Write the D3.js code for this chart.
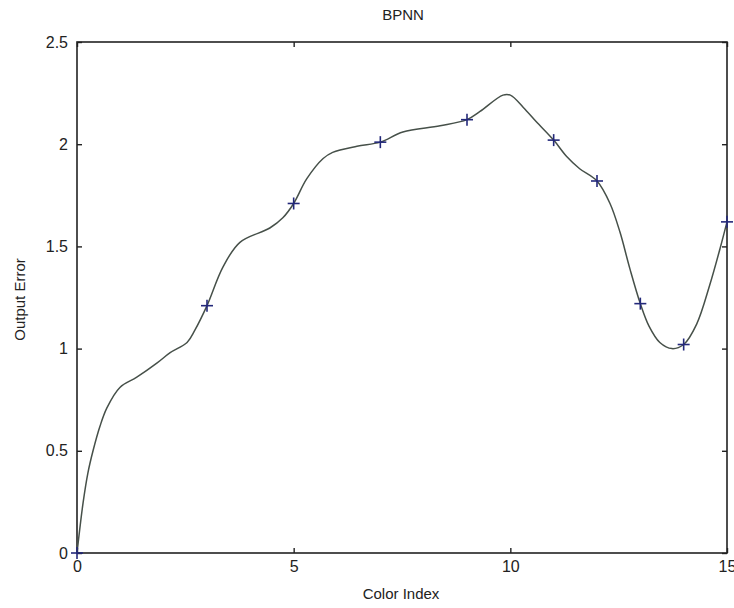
<!DOCTYPE html>
<html lang="en">
<head>
  <meta charset="UTF-8">
  <title>BPNN</title>
  <style>
    body { margin: 0; background: #fff; }
    text { font-family: "Liberation Sans", Arial, sans-serif; fill: #222; }
    .curve { fill: none; stroke: #465049; stroke-width: 1.5px; }
    .mark { stroke: #23287a; stroke-width: 1.6px; }
    .frame { fill: none; stroke: #222; stroke-width: 1.6px; }
  </style>
</head>
<body>
  <script src="https://cdn.jsdelivr.net/npm/d3@7"></script>
  <script>
    const width = 734, height = 608;
    const padL = 77, padR = 727, padT = 42, padB = 553;

    // samples
    const curveX = [0, 0.14, 0.25, 0.37, 0.53, 0.69, 0.99, 1.38, 1.85, 2.15, 2.54, 2.72, 3, 3.37, 3.76, 4.45, 4.75, 5, 5.3, 5.68, 5.9, 6.46, 7, 7.52, 8.38, 9, 9.3, 9.83, 10, 10.3, 10.6, 11, 11.3, 11.6, 12, 12.3, 12.53, 12.76, 13, 13.2, 13.45, 13.73, 14, 14.3, 14.6, 14.84, 15];
    const curveY = [0, 0.245, 0.39, 0.50, 0.62, 0.71, 0.81, 0.86, 0.93, 0.98, 1.03, 1.09, 1.21, 1.40, 1.52, 1.59, 1.64, 1.71, 1.83, 1.93, 1.96, 1.99, 2.01, 2.06, 2.09, 2.12, 2.16, 2.24, 2.24, 2.18, 2.11, 2.02, 1.94, 1.88, 1.82, 1.71, 1.57, 1.39, 1.22, 1.11, 1.03, 1.00, 1.02, 1.12, 1.31, 1.49, 1.62];

    // '+' markers
    const markX = [0, 3, 5, 7, 9, 11, 12, 13, 14, 15];
    const markY = [0, 1.21, 1.71, 2.01, 2.12, 2.02, 1.82, 1.22, 1.02, 1.62];

    const xTicks = [0, 5, 10, 15];
    const yTicks = [0, 0.5, 1, 1.5, 2, 2.5];

    const x = d3.scaleLinear().domain([0, 15]).range([padL, padR]);
    const y = d3.scaleLinear().domain([0, 2.5]).range([padB, padT]);

    const svg = d3.select('body').append('svg')
      .attr('width', width).attr('height', height);

    // ticks (inward, mirrored like matlab box)
    const tick = 5;
    function addAxis(axis, tx, ty, labels){
      const g = svg.append('g').attr('transform', `translate(${tx},${ty})`).call(axis);
      g.select('.domain').remove();
      g.selectAll('.tick line').attr('stroke', '#222').attr('stroke-width', 1.4);
      if (labels) {
        g.selectAll('.tick text').style('font-size', '16px')
          .style('font-family', '"Liberation Sans", Arial, sans-serif').attr('fill', '#222');
      } else {
        g.selectAll('.tick text').remove();
      }
      return g;
    }
    addAxis(d3.axisBottom(x).tickValues(xTicks).tickSize(-tick).tickPadding(8).tickFormat(d3.format('')), 0, padB, true);
    addAxis(d3.axisTop(x).tickValues(xTicks).tickSize(-tick), 0, padT, false);
    addAxis(d3.axisLeft(y).tickValues(yTicks).tickSize(-tick).tickPadding(9).tickFormat(d3.format('')), padL, 0, true);
    addAxis(d3.axisRight(y).tickValues(yTicks).tickSize(-tick), padR, 0, false);

    svg.append('rect').attr('class', 'frame')
      .attr('x', padL).attr('y', padT)
      .attr('width', padR - padL).attr('height', padB - padT);

    const pts = curveX.map((d, i) => [d, curveY[i]]);
    const line = d3.line().curve(d3.curveCatmullRom.alpha(0.5))
      .x(d => x(d[0])).y(d => y(d[1]));
    svg.append('path').datum(pts).attr('class', 'curve').attr('d', line);

    const m = markX.map((d, i) => [d, markY[i]]);
    const s = 6;
    const g = svg.append('g');
    g.selectAll('line.h').data(m).enter().append('line').attr('class', 'mark')
      .attr('x1', d => x(d[0]) - s).attr('x2', d => x(d[0]) + s)
      .attr('y1', d => y(d[1])).attr('y2', d => y(d[1]));
    g.selectAll('line.v').data(m).enter().append('line').attr('class', 'mark')
      .attr('x1', d => x(d[0])).attr('x2', d => x(d[0]))
      .attr('y1', d => y(d[1]) - s).attr('y2', d => y(d[1]) + s);

    svg.append('text').attr('x', 403).attr('y', 20).attr('text-anchor', 'middle')
      .style('font-size', '15px').text('BPNN');
    svg.append('text').attr('x', 401).attr('y', 599).attr('text-anchor', 'middle')
      .style('font-size', '15px').text('Color Index');
    svg.append('text').attr('transform', `translate(25,${(padT + padB) / 2 + 2}) rotate(-90)`)
      .attr('text-anchor', 'middle').style('font-size', '15px').text('Output Error');
  </script>
</body>
</html>
